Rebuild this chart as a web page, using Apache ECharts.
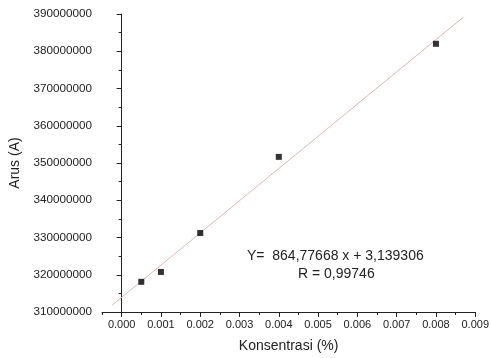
<!DOCTYPE html>
<html><head><meta charset="utf-8">
<script src="https://cdn.jsdelivr.net/npm/echarts@6/dist/echarts.min.js"></script>
<style>html,body{margin:0;padding:0;background:#fff}#c{width:492px;height:358px}</style>
</head><body><div id="c"></div>
<script>
const concentration = [0.0005, 0.001, 0.002, 0.004, 0.008];
const current = [318100000, 320750000, 331200000, 351650000, 382000000];
const fitSlope = 8647766800;
const fitIntercept = 313930600;
const fitRange = [-0.00025, 0.0087];
const xMajorTicks = [0, 0.001, 0.002, 0.003, 0.004, 0.005, 0.006, 0.007, 0.008, 0.009];
const xMinorTicks = [-0.0005, 0.0005, 0.0015, 0.0025, 0.0035, 0.0045, 0.0055, 0.0065, 0.0075, 0.0085];
const eqText = 'Y=  864,77668 x + 3,139306';
const rText = 'R = 0,99746';

const chart = echarts.init(document.getElementById('c'));
const font = 'Arial, "Liberation Sans", sans-serif';
const fitData = fitRange.map(x => [x, fitIntercept + fitSlope * x]);
const scatterData = concentration.map((x, i) => [x, current[i]]);
chart.setOption({
  animation: false,
  grid: {left: 99, right: 14, top: 14, bottom: 46},
  xAxis: [{
    type: 'value', min: -0.0005, max: 0.009,
    name: 'Konsentrasi (%)', nameLocation: 'middle', nameGap: 27,
    nameTextStyle: {fontFamily: font, fontSize: 14, color: '#222'},
    axisLine: {show: true, onZero: false, lineStyle: {color: '#222', width: 1}},
    axisTick: {show: true, length: 5, customValues: xMajorTicks, lineStyle: {color: '#222'}},
    axisLabel: {customValues: xMajorTicks, fontFamily: font, fontSize: 11, color: '#222', margin: 7,
      formatter: v => v.toFixed(3)},
    splitLine: {show: false}
  }, {
    type: 'value', min: -0.0005, max: 0.009, position: 'bottom', gridIndex: 0,
    axisLine: {show: false},
    axisTick: {show: true, length: 3, customValues: xMinorTicks, lineStyle: {color: '#222'}},
    axisLabel: {show: false}, splitLine: {show: false}
  }],
  yAxis: {
    type: 'value', min: 310000000, max: 390000000, interval: 10000000,
    name: 'Arus (A)', nameLocation: 'middle', nameGap: 80,
    nameTextStyle: {fontFamily: font, fontSize: 14, color: '#222'},
    axisLine: {show: true, lineStyle: {color: '#222', width: 1}},
    axisTick: {show: true, length: 5, lineStyle: {color: '#222'}},
    minorTick: {show: true, splitNumber: 2, length: 3, lineStyle: {color: '#222'}},
    axisLabel: {fontFamily: font, fontSize: 11.7, color: '#222', margin: 10,
      formatter: v => String(Math.round(v))},
    splitLine: {show: false}
  },
  series: [{
    type: 'line', data: fitData, showSymbol: false, symbol: 'none',
    lineStyle: {color: '#e4b4b4', width: 1}, silent: true, z: 1
  }, {
    type: 'scatter', data: scatterData, symbol: 'rect', symbolSize: 6,
    itemStyle: {color: '#000'}, z: 3
  }],
  graphic: [{
    type: 'text', left: 247, top: 249,
    style: {text: eqText, font: '14px ' + font, fill: '#222'}
  }, {
    type: 'text', left: 298, top: 267,
    style: {text: rText, font: '14px ' + font, fill: '#222'}
  }]
});
</script></body></html>
